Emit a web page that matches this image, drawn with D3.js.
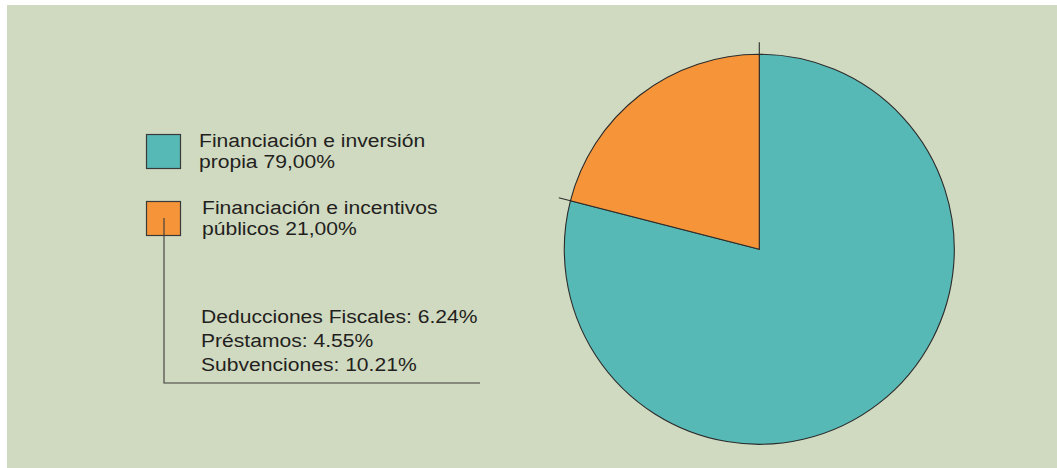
<!DOCTYPE html>
<html>
<head>
<meta charset="utf-8">
<script src="https://cdn.jsdelivr.net/npm/d3@7"></script>
<style>
  html, body { margin: 0; padding: 0; background: #ffffff; }
  svg { display: block; }
  text { font-family: "Liberation Sans", Arial, Helvetica, sans-serif; fill: #231f20; }
</style>
</head>
<body>
<svg id="chart" width="1057" height="468"></svg>
<script>
// Funding sources (share of total, %)
const categories = ["Financiación e inversión propia", "Financiación e incentivos públicos"];
const values = [79.00, 21.00];
const legendLabels = [
  ["Financiación e inversión", "propia 79,00%"],
  ["Financiación e incentivos", "públicos 21,00%"]
];
// Breakdown of the public share
const detailNames = ["Deducciones Fiscales", "Préstamos", "Subvenciones"];
const detailValues = [6.24, 4.55, 10.21];
const colors = ["#56b9b6", "#f59439"];

const svg = d3.select("#chart");
const stretch = 1.11; // slightly extended type

// panel background
svg.append("rect")
  .attr("x", 7).attr("y", 5)
  .attr("width", 1057 - 7).attr("height", 468 - 5)
  .attr("fill", "#d0dac0");

const cx = 759.3, cy = 249.3, r = 195;
const color = d3.scaleOrdinal().domain(categories).range(colors);

const pie = d3.pie().sort(null).value(d => d.value)
  .startAngle(0).endAngle(2 * Math.PI);
const data = categories.map((c, i) => ({ name: c, value: values[i] }));
const arcs = pie(data);
const arc = d3.arc().innerRadius(0).outerRadius(r);

const g = svg.append("g").attr("transform", `translate(${cx},${cy})`);
g.selectAll("path.slice")
  .data(arcs)
  .join("path")
  .attr("class", "slice")
  .attr("d", arc)
  .attr("fill", d => color(d.data.name))
  .attr("stroke", "#2b2b2b")
  .attr("stroke-width", 1.1)
  .attr("stroke-linejoin", "round");

// small ticks extending past the rim at slice boundaries
const boundaryAngles = [arcs[0].startAngle, arcs[0].endAngle];
g.selectAll("line.tick")
  .data(boundaryAngles)
  .join("line")
  .attr("class", "tick")
  .attr("x1", a => Math.sin(a) * (r - 1))
  .attr("y1", a => -Math.cos(a) * (r - 1))
  .attr("x2", a => Math.sin(a) * (r + 12))
  .attr("y2", a => -Math.cos(a) * (r + 12))
  .attr("stroke", "#2b2b2b")
  .attr("stroke-width", 1.1);

// legend
const legendY = d3.scaleOrdinal().domain(categories).range([134.5, 201.5]);
const lg = svg.append("g");
lg.selectAll("rect")
  .data(categories)
  .join("rect")
  .attr("x", 146.5).attr("y", d => legendY(d))
  .attr("width", 34).attr("height", 34)
  .attr("fill", d => color(d))
  .attr("stroke", "#3a3a3a")
  .attr("stroke-width", 1.2);

const textX = [199, 202];
const firstBaseline = [146.5, 214];
lg.selectAll("text")
  .data(legendLabels)
  .join("text")
  .attr("transform", (d, i) => `translate(${textX[i]},${firstBaseline[i]}) scale(${stretch},1)`)
  .attr("font-size", 19)
  .selectAll("tspan")
  .data(d => d)
  .join("tspan")
  .attr("x", 0)
  .attr("dy", (d, i) => i === 0 ? 0 : 21.3)
  .text(d => d);

// connector from the public-funding key to its breakdown
svg.append("path")
  .attr("d", "M164,218 V383 H480")
  .attr("fill", "none")
  .attr("stroke", "#3a3a3a")
  .attr("stroke-width", 1.1);

const fmt = d3.format(".2f");
svg.append("g").selectAll("text")
  .data(detailNames)
  .join("text")
  .attr("transform", (d, i) => `translate(201,${323.3 + i * 23.7}) scale(${stretch},1)`)
  .attr("font-size", 19)
  .text((d, i) => `${d}: ${fmt(detailValues[i])}%`);
</script>
</body>
</html>
